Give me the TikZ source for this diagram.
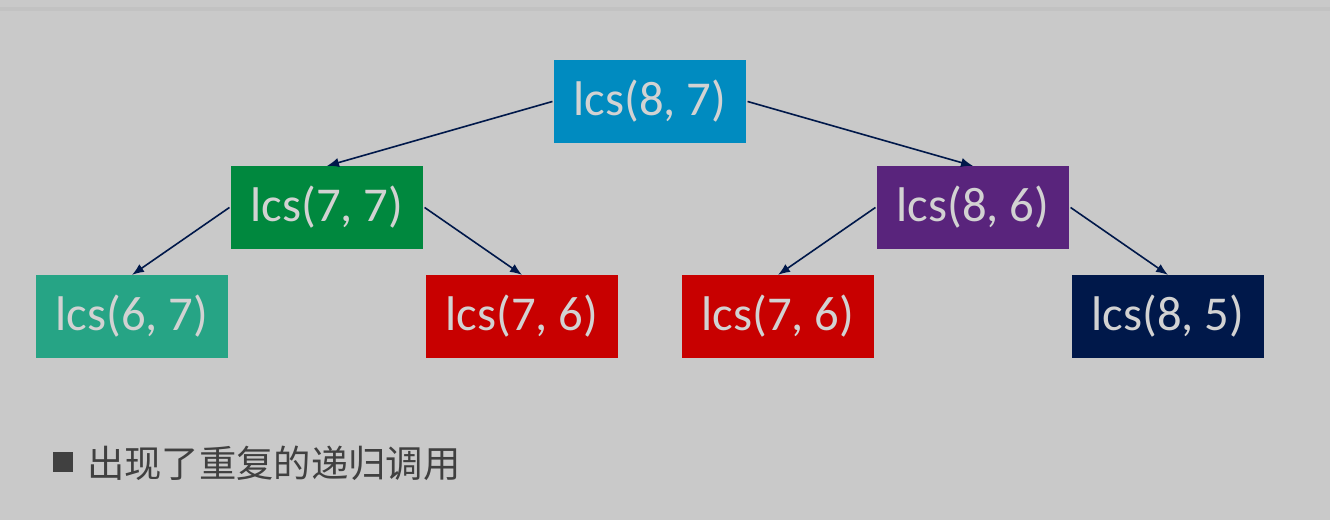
\documentclass[tikz,border=0pt]{standalone}
\usepackage{fontspec}
\setmainfont{Carlito}
\newfontfamily\cjkfont{Noto Sans CJK SC}
\definecolor{slidegray}{RGB}{201, 201, 201}
\definecolor{slideline}{RGB}{194, 194, 194}
\definecolor{boxtext}{RGB}{210, 210, 210}
\definecolor{lcsblue}{RGB}{0, 139, 192}
\definecolor{lcsgreen}{RGB}{0, 136, 62}
\definecolor{lcspurple}{RGB}{89, 36, 124}
\definecolor{lcsteal}{RGB}{38, 164, 133}
\definecolor{lcsred}{RGB}{200, 0, 0}
\definecolor{lcsnavy}{RGB}{0, 24, 74}
\definecolor{notegray}{RGB}{64, 64, 64}
\usetikzlibrary{
  arrows.meta,
  positioning,
}
\tikzset{
  >={Latex[length=9pt,width=7pt]},
  call/.style={rectangle,minimum width=144pt,minimum height=62pt,inner sep=0pt,
    text=boxtext,font=\fontsize{36.5}{40}\selectfont},
  edge/.style={->,draw=lcsnavy,fill=lcsnavy,line width=1.2pt},
}

\begin{document}
\begin{tikzpicture}[x=0.75pt,y=-0.75pt]
      \fill[slidegray] (0,0) rectangle (1330,520);
      \useasboundingbox (0,0) rectangle (1330,520);
      \fill[slideline] (0,7) rectangle (1330,11);

      \node[call,fill=lcsblue]   (root) at (650,101.5) {lcs(8, 7)};
      \node[call,fill=lcsgreen]  (l77)  at (327,207.5) {lcs(7, 7)};
      \node[call,fill=lcspurple] (l86)  at (973,207.5) {lcs(8, 6)};
      \node[call,fill=lcsteal]   (l67)  at (132,316.5) {lcs(6, 7)};
      \node[call,fill=lcsred]    (l76a) at (522,316.5) {lcs(7, 6)};
      \node[call,fill=lcsred]    (l76b) at (778,316.5) {lcs(7, 6)};
      \node[call,fill=lcsnavy]   (l85)  at (1168,316.5) {lcs(8, 5)};

      \draw[edge] ([xshift=-1pt]root.west) -- (l77.north);
      \draw[edge] ([xshift=1pt]root.east) -- (l86.north);
      \draw[edge] ([xshift=-1pt]l77.west) -- (l67.north);
      \draw[edge] ([xshift=1pt]l77.east) -- (l76a.north);
      \draw[edge] ([xshift=-1pt]l86.west) -- (l76b.north);
      \draw[edge] ([xshift=1pt]l86.east) -- (l85.north);

      \node[rectangle,fill=notegray,minimum size=15pt,inner sep=0pt] (bullet) at (63,462) {};
      \node[anchor=west,inner sep=0pt,text=notegray,font=\cjkfont\fontsize{28}{32}\selectfont] (note) at (87,463) {出现了重复的递归调用};
    \end{tikzpicture}
\end{document}
